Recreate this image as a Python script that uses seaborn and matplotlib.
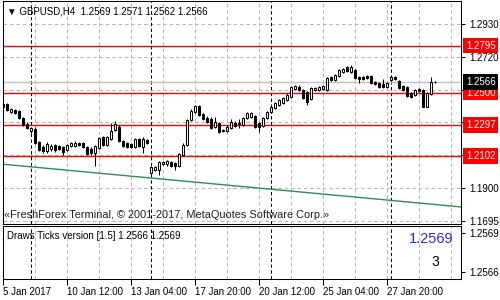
import numpy as np
import matplotlib
matplotlib.use("Agg")
import matplotlib.pyplot as plt
import matplotlib.transforms as mtrans
import seaborn as sns

# ---------------- data ----------------
symbol = "GBPUSD,H4"
last_ohlc = [1.2569, 1.2571, 1.2562, 1.2566]

opens = [1.2428, 1.2428, 1.2378, 1.2391, 1.2385, 1.2341, 1.2303, 1.2259, 1.2272, 1.2190,
         1.2159, 1.2134, 1.2146, 1.2171, 1.2165, 1.2159, 1.2140, 1.2165, 1.2165, 1.2184,
         1.2184, 1.2159, 1.2146, 1.2121, 1.2153, 1.2222, 1.2171, 1.2209, 1.2265, 1.2284,
         1.2196, 1.2184, 1.2178, 1.2159, 1.2209, 1.2159, 1.2203, 1.1996, 1.2015, 1.2015,
         1.2052, 1.2052, 1.2065, 1.2059, 1.2040, 1.2109, 1.2171, 1.2328, 1.2378, 1.2416,
         1.2366, 1.2341, 1.2334, 1.2284, 1.2309, 1.2265, 1.2259, 1.2278, 1.2309, 1.2303,
         1.2297, 1.2341, 1.2347, 1.2353, 1.2309, 1.2290, 1.2341, 1.2378, 1.2403, 1.2422,
         1.2435, 1.2454, 1.2472, 1.2522, 1.2535, 1.2516, 1.2504, 1.2460, 1.2516, 1.2516,
         1.2522, 1.2516, 1.2598, 1.2579, 1.2604, 1.2629, 1.2660, 1.2629, 1.2642, 1.2598,
         1.2598, 1.2604, 1.2604, 1.2566, 1.2560, 1.2554, 1.2535, 1.2579, 1.2598, 1.2573,
         1.2541, 1.2535, 1.2497, 1.2485, 1.2522, 1.2516, 1.2410, 1.2491, 1.2569]
closes = [1.2410, 1.2391, 1.2397, 1.2372, 1.2341, 1.2297, 1.2278, 1.2278, 1.2184, 1.2140,
          1.2134, 1.2178, 1.2165, 1.2140, 1.2146, 1.2127, 1.2171, 1.2184, 1.2184, 1.2171,
          1.2159, 1.2115, 1.2121, 1.2165, 1.2215, 1.2171, 1.2222, 1.2259, 1.2303, 1.2196,
          1.2165, 1.2159, 1.2159, 1.2209, 1.2165, 1.2209, 1.2184, 1.2033, 1.2033, 1.2065,
          1.2065, 1.2071, 1.2040, 1.2040, 1.2115, 1.2171, 1.2328, 1.2385, 1.2416, 1.2359,
          1.2334, 1.2316, 1.2278, 1.2316, 1.2253, 1.2259, 1.2284, 1.2316, 1.2290, 1.2309,
          1.2341, 1.2372, 1.2372, 1.2284, 1.2284, 1.2341, 1.2378, 1.2410, 1.2435, 1.2454,
          1.2466, 1.2485, 1.2535, 1.2541, 1.2516, 1.2466, 1.2441, 1.2529, 1.2529, 1.2535,
          1.2541, 1.2591, 1.2579, 1.2610, 1.2642, 1.2648, 1.2635, 1.2660, 1.2591, 1.2585,
          1.2585, 1.2591, 1.2560, 1.2554, 1.2535, 1.2535, 1.2560, 1.2598, 1.2585, 1.2529,
          1.2516, 1.2479, 1.2472, 1.2516, 1.2510, 1.2410, 1.2497, 1.2566, 1.2566]
highs = [1.2441, 1.2435, 1.2403, 1.2397, 1.2391, 1.2347, 1.2316, 1.2284, 1.2284, 1.2196,
         1.2171, 1.2190, 1.2178, 1.2178, 1.2171, 1.2165, 1.2178, 1.2190, 1.2196, 1.2190,
         1.2190, 1.2165, 1.2159, 1.2171, 1.2222, 1.2228, 1.2228, 1.2309, 1.2322, 1.2297,
         1.2203, 1.2190, 1.2184, 1.2215, 1.2215, 1.2222, 1.2209, 1.2040, 1.2040, 1.2071,
         1.2071, 1.2077, 1.2071, 1.2065, 1.2121, 1.2184, 1.2334, 1.2397, 1.2422, 1.2422,
         1.2372, 1.2353, 1.2347, 1.2347, 1.2316, 1.2272, 1.2297, 1.2334, 1.2322, 1.2334,
         1.2347, 1.2378, 1.2378, 1.2359, 1.2316, 1.2347, 1.2385, 1.2416, 1.2441, 1.2460,
         1.2472, 1.2497, 1.2541, 1.2548, 1.2548, 1.2522, 1.2510, 1.2535, 1.2535, 1.2541,
         1.2548, 1.2598, 1.2604, 1.2617, 1.2648, 1.2654, 1.2667, 1.2673, 1.2648, 1.2604,
         1.2604, 1.2610, 1.2610, 1.2573, 1.2566, 1.2585, 1.2566, 1.2604, 1.2604, 1.2579,
         1.2548, 1.2541, 1.2504, 1.2522, 1.2529, 1.2522, 1.2504, 1.2598, 1.2571]
lows = [1.2403, 1.2385, 1.2372, 1.2366, 1.2334, 1.2290, 1.2272, 1.2247, 1.2178, 1.2134,
        1.2121, 1.2121, 1.2134, 1.2127, 1.2140, 1.2109, 1.2134, 1.2159, 1.2159, 1.2165,
        1.2153, 1.2109, 1.2109, 1.2040, 1.2146, 1.2165, 1.2165, 1.2203, 1.2259, 1.2190,
        1.2159, 1.2153, 1.2153, 1.2153, 1.2159, 1.2121, 1.2178, 1.1990, 1.2008, 1.1983,
        1.2046, 1.2040, 1.2033, 1.2015, 1.2033, 1.2102, 1.2165, 1.2322, 1.2372, 1.2353,
        1.2328, 1.2309, 1.2272, 1.2278, 1.2247, 1.2253, 1.2253, 1.2272, 1.2284, 1.2278,
        1.2290, 1.2334, 1.2341, 1.2278, 1.2253, 1.2284, 1.2334, 1.2372, 1.2397, 1.2416,
        1.2428, 1.2447, 1.2466, 1.2516, 1.2510, 1.2460, 1.2422, 1.2454, 1.2510, 1.2510,
        1.2516, 1.2510, 1.2573, 1.2573, 1.2598, 1.2623, 1.2629, 1.2623, 1.2585, 1.2560,
        1.2579, 1.2585, 1.2554, 1.2548, 1.2529, 1.2529, 1.2529, 1.2573, 1.2579, 1.2522,
        1.2510, 1.2472, 1.2466, 1.2479, 1.2504, 1.2410, 1.2410, 1.2485, 1.2562]

levels = [1.2795, 1.2500, 1.2297, 1.2102]
bid = 1.2566
trend_idx = [-0.125, 114.5]
trend_price = [1.2051, 1.1783]

grid_prices = [1.1695, 1.1901, 1.2107, 1.2313, 1.2518, 1.2724, 1.2930]
grid_labels = ["1.1695", "1.1900", "", "", "", "1.2720", "1.2930"]
grid_bars = list(range(0, 113, 8))
week_starts = [7, 37, 67, 97]
date_ticks = [0, 16, 32, 48, 64, 80, 96]
date_labels = ["5 Jan 2017", "10 Jan 12:00", "13 Jan 04:00", "17 Jan 20:00",
               "20 Jan 12:00", "25 Jan 04:00", "27 Jan 20:00"]

sub_range = [1.2566, 1.2569]
sub_value = 1.2569
sub_count = 3
copyright_text = "\u00abFreshForex Terminal, \u00a9 2001-2017, MetaQuotes Software Corp.\u00bb"

# ---------------- style ----------------
sns.set_theme(style="white")
plt.rcParams["font.family"] = ["Liberation Sans", "DejaVu Sans"]
plt.rcParams["axes.linewidth"] = 0.75
plt.rcParams["lines.scale_dashes"] = False

W, H = 500, 300
fig = plt.figure(figsize=(5, 3), dpi=100)
fig.patch.set_facecolor("white")
L, R = 2.5, 461
ax = fig.add_axes([L / W, 1 - 224 / H, (R - L) / W, (224 - 1) / H])
sub = fig.add_axes([L / W, 1 - 279 / H, (R - L) / W, (279 - 226) / H])

for a in (ax, sub):
    a.set_xlim(-0.125, 114.5)
    a.set_facecolor("white")
    for s in a.spines.values():
        s.set_color("black")
        s.set_linewidth(0.75)
    for g in grid_bars:
        a.axvline(g, color="#b8b8b8", lw=0.75, ls=(0, (2.6, 2.0)), zorder=1)
    for w in week_starts:
        a.axvline(w, color="black", lw=0.75, ls=(0, (2.4, 1.8)), zorder=1.5)

ax.set_ylim(1.1676, 1.3074)
for p in grid_prices:
    ax.axhline(p, color="#b8b8b8", lw=0.75, ls=(0, (2.6, 2.0)), zorder=1)
ax.axhline(bid, color="#c0c0c0", lw=1.0, zorder=2)
for lv in levels:
    ax.axhline(lv, color="red", lw=1.0, zorder=2)

sns.lineplot(x=trend_idx, y=trend_price, ax=ax, color="#2e8b57", lw=1.0, zorder=2.5)

o = np.array(opens); c = np.array(closes); h = np.array(highs); lo = np.array(lows)
idx = np.arange(len(o))
ax.vlines(idx, lo, h, color="black", lw=0.75, zorder=3)
up = c >= o
ax.bar(idx, np.abs(c - o), bottom=np.minimum(o, c), width=0.5,
       color=np.where(up, "white", "black"), edgecolor="black", linewidth=0.75, zorder=4)

ax.yaxis.tick_right()
ax.set_yticks(grid_prices)
ax.set_yticklabels(grid_labels)
ax.tick_params(axis="y", right=True, left=False, length=3, width=0.75, pad=3,
               labelsize=7, colors="black")
ax.set_xticks([])
ax.set_ylabel(""); ax.set_xlabel("")

tr = mtrans.blended_transform_factory(ax.transAxes, ax.transData)
for lv in levels:
    ax.text(1.0 + 5 / (R - L), lv, f"{lv:.4f}", transform=tr, ha="left", va="center",
            color="white", fontsize=7, clip_on=False, zorder=10,
            bbox=dict(boxstyle="square,pad=0.28", fc="red", ec="none"))
ax.text(1.0 + 5 / (R - L), bid, f"{bid:.4f}", transform=tr, ha="left", va="center",
        color="white", fontsize=7, clip_on=False, zorder=10,
        bbox=dict(boxstyle="square,pad=0.28", fc="black", ec="none"))

# sub window
sub.set_ylim(1.25655, 1.25695)
sub.yaxis.tick_right()
sub.set_yticks(sub_range)
sub.set_yticklabels([f"{v:.4f}" for v in sub_range])
sub.tick_params(axis="y", right=True, left=False, length=3, width=0.75, pad=3,
                labelsize=7, colors="black")
sub.set_xticks(date_ticks)
sub.set_xticklabels(date_labels)
for t in sub.get_xticklabels():
    t.set_ha("left")
sub.tick_params(axis="x", bottom=True, length=4, width=0.75, pad=2, labelsize=7,
                colors="black")

# texts
fig.text(7 / W, 1 - 11 / H,
         "\u25bc " + symbol + "  " + " ".join(f"{v:.4f}" for v in last_ohlc),
         va="center", ha="left", fontsize=7, color="black")
fig.text(4 / W, 1 - 215 / H, copyright_text, va="center", ha="left", fontsize=7.9,
         color="#202020")
fig.text(7 / W, 1 - 236 / H,
         f"Draws Ticks version [1.5] {sub_range[0]:.4f} {sub_range[1]:.4f}",
         va="center", ha="left", fontsize=7, color="black")
fig.text(454 / W, 1 - 239 / H, f"{sub_value:.4f}", va="center", ha="right",
         fontsize=10.5, color="#2a2aff")
fig.text(435 / W, 1 - 262 / H, str(sub_count), va="center", ha="center",
         fontsize=10, color="black")

fig.savefig("out.png", dpi=100, facecolor="white")
